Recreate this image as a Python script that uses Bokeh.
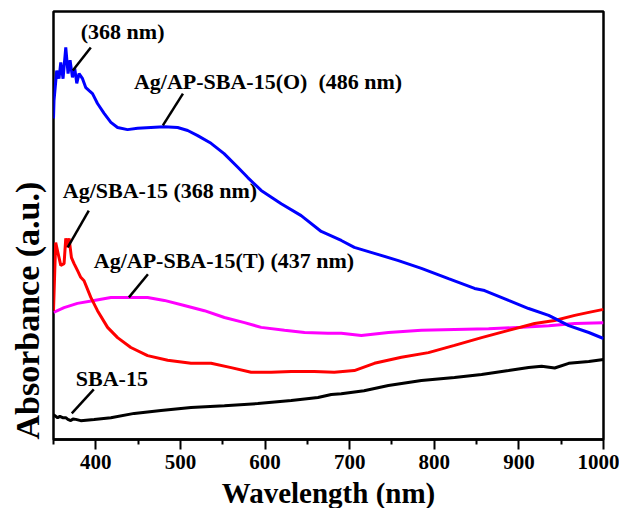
from bokeh.plotting import figure
from bokeh.models import FixedTicker, Range1d, Label, Title
from bokeh.embed import file_html
from bokeh.resources import INLINE

# ---- data (absorbance in arbitrary units) ----
wl_o = [350, 350.6, 353.8, 356.5, 358.6, 361.3, 364.5, 367.2, 369.6, 372.4, 375.1, 377.5, 380.2, 384.3,
        388.2, 392.1, 396.1, 402.0, 409.8, 417.8, 425.7, 437.5, 449.4, 465.1, 480.5, 496.7, 508.6, 520.4,
        536.2, 551.6, 567.8, 579.6, 595.4, 619.1, 642.7, 666.4, 690.1, 705.5, 729.2, 757.6, 784.8, 816.8,
        847.6, 859.4, 887.8, 911.5, 935.2, 942.3, 958.9, 982.6, 1000]
abs_o = [0.750, 0.792, 0.862, 0.843, 0.881, 0.843, 0.916, 0.855, 0.886, 0.846, 0.867, 0.832, 0.855, 0.843,
         0.822, 0.815, 0.808, 0.785, 0.762, 0.741, 0.729, 0.724, 0.727, 0.729, 0.731, 0.729, 0.722, 0.710,
         0.692, 0.668, 0.636, 0.612, 0.582, 0.551, 0.523, 0.486, 0.465, 0.449, 0.435, 0.418, 0.400, 0.376,
         0.353, 0.348, 0.325, 0.306, 0.290, 0.283, 0.266, 0.250, 0.236]

wl_ag = [350, 351.5, 352.6, 355.4, 358.6, 362.5, 364.5, 366.5, 368.4, 371.2, 374.3, 378.3, 382.2, 386.1,
         394.1, 402.0, 413.9, 425.7, 441.4, 461.2, 484.9, 512.5, 536.2, 559.9, 583.5, 607.2, 630.9, 658.1,
         681.8, 705.5, 729.2, 761.2, 793.1, 823.9, 855.9, 887.8, 918.6, 942.3, 966.0, 982.6, 1000]
abs_ag = [0.301, 0.395, 0.460, 0.435, 0.407, 0.411, 0.470, 0.449, 0.470, 0.425, 0.411, 0.395, 0.379, 0.371,
          0.332, 0.301, 0.262, 0.238, 0.215, 0.196, 0.185, 0.178, 0.178, 0.168, 0.157, 0.157, 0.159, 0.159,
          0.157, 0.161, 0.178, 0.192, 0.203, 0.220, 0.238, 0.255, 0.271, 0.278, 0.290, 0.297, 0.304]

wl_t = [350, 362.5, 378.3, 398.0, 417.8, 441.4, 461.2, 481.0, 504.6, 528.3, 552.0, 575.7, 595.4, 623.0,
        646.7, 674.3, 690.1, 713.8, 745.8, 784.8, 823.9, 864.2, 903.3, 935.2, 966.0, 1000]
abs_t = [0.297, 0.308, 0.318, 0.325, 0.332, 0.332, 0.332, 0.325, 0.313, 0.301, 0.285, 0.273, 0.262, 0.255,
         0.250, 0.248, 0.248, 0.243, 0.250, 0.255, 0.257, 0.259, 0.262, 0.266, 0.271, 0.273]

wl_s = [350, 354.9, 357.5, 360.8, 364.5, 367, 370.4, 373, 376.3, 382.2, 398.0, 417.8, 445.4, 477.0, 512.5,
        552.0, 591.5, 631.0, 662.6, 678.3, 690.1, 717.0, 745.8, 784.8, 823.9, 855.9, 887.8, 911.5, 926.9,
        942.3, 958.9, 982.6, 1000]
abs_s = [0.058, 0.051, 0.054, 0.051, 0.051, 0.047, 0.044, 0.048, 0.047, 0.044, 0.047, 0.051, 0.061, 0.068,
         0.075, 0.079, 0.084, 0.091, 0.098, 0.105, 0.107, 0.114, 0.126, 0.138, 0.145, 0.152, 0.161, 0.168,
         0.171, 0.167, 0.178, 0.182, 0.187]

x_ticks = [400, 500, 600, 700, 800, 900, 1000]
x_minor = [350, 450, 550, 650, 750, 850, 950]

FONT = "Liberation Serif"

p = figure(frame_width=550, frame_height=428, x_range=Range1d(350, 1000), y_range=Range1d(0, 1),
           output_backend="svg", toolbar_location=None,
           min_border_left=52, min_border_right=16, min_border_top=11, min_border_bottom=60)
p.grid.visible = False
p.background_fill_color = "white"
p.outline_line_color = "black"
p.outline_line_width = 2.5
p.outline_line_alpha = 1.0

# x axis
xa = p.xaxis[0]
xa.ticker = FixedTicker(ticks=x_ticks, minor_ticks=x_minor)
xa.axis_label = "Wavelength (nm)"
xa.axis_label_text_font = FONT
xa.axis_label_text_font_style = "bold"
xa.axis_label_text_font_size = "29px"
xa.axis_label_text_color = "black"
xa.axis_label_standoff = 5
xa.major_label_text_font = FONT
xa.major_label_text_font_style = "bold"
xa.major_label_text_font_size = "21px"
xa.major_label_text_color = "black"
xa.major_label_standoff = 5
xa.axis_line_width = 2.5
xa.major_tick_line_width = 2
xa.minor_tick_line_width = 2
xa.major_tick_in = 0
xa.major_tick_out = 10
xa.minor_tick_in = 0
xa.minor_tick_out = 5

# y axis hidden: the frame outline draws the left edge
p.yaxis.visible = False

p.add_layout(Title(text="Absorbance (a.u.)", align="left", offset=0, standoff=14,
                   text_font=FONT, text_font_style="bold", text_font_size="34px",
                   text_color="black", vertical_align="middle"), "left")

p.line(wl_s, abs_s, line_color="black", line_width=3)
p.line(wl_t, abs_t, line_color="#FF00FF", line_width=3)
p.line(wl_ag, abs_ag, line_color="#FF0000", line_width=3)
p.line(wl_o, abs_o, line_color="#0000FF", line_width=3)

# leader lines (annotation positions)
p.segment(x0=[394.1, 503, 391.7, 461.6, 397.6], y0=[0.916, 0.808, 0.535, 0.386, 0.117],
          x1=[372.8, 479.3, 366.8, 439.1, 371.6], y1=[0.862, 0.734, 0.449, 0.332, 0.061],
          line_color="black", line_width=2.5)

labels = [
    ("(368 nm)", 382.2, 0.953),
    ("Ag/AP-SBA-15(O)\u00a0\u00a0(486 nm)", 445.0, 0.836),
    ("Ag/SBA-15 (368 nm)", 361.0, 0.582),
    ("Ag/AP-SBA-15(T) (437 nm)", 397.6, 0.418),
    ("SBA-15", 376.3, 0.143),
]
for t, x, y in labels:
    p.add_layout(Label(x=x, y=y, text=t, text_font=FONT, text_font_style="bold",
                       text_font_size="22px", text_color="black", text_baseline="middle",
                       text_align="left"))

open("out.html", "w").write(file_html(p, INLINE))
